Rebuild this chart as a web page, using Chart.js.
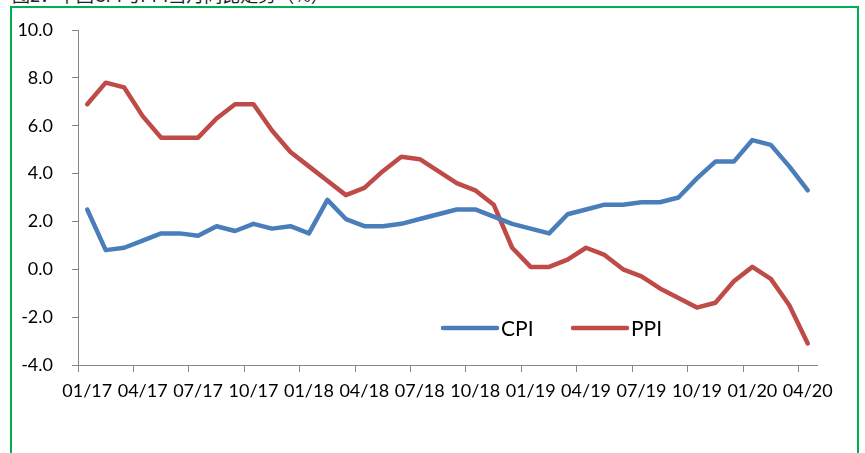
<!DOCTYPE html>
<html>
<head>
<meta charset="utf-8">
<script src="https://cdn.jsdelivr.net/npm/chart.js@4"></script>
<style>
  html, body { margin: 0; padding: 0; background: #fff; overflow: hidden; }
  #wrap { position: relative; width: 865px; height: 453px; }
  #title { position: absolute; left: 12px; top: -19px; font: 18px 'Noto Sans CJK SC', sans-serif; color: #222; white-space: nowrap; }
  #frame { position: absolute; left: 10px; top: 6px; width: 849px; height: 460px; border: 2px solid #00b050; box-sizing: border-box; }
  canvas { position: absolute; left: 0; top: 0; }
</style>
</head>
<body>
<div id="wrap">
  <div id="title">图2：中国CPI与PPI当月同比走势（%）</div>
  <div id="frame"></div>
  <canvas id="chart" width="865" height="453"></canvas>
</div>
<script>
// monthly, 01/17 .. 04/20
const months = [
  '01/17','02/17','03/17','04/17','05/17','06/17','07/17','08/17','09/17','10/17','11/17','12/17',
  '01/18','02/18','03/18','04/18','05/18','06/18','07/18','08/18','09/18','10/18','11/18','12/18',
  '01/19','02/19','03/19','04/19','05/19','06/19','07/19','08/19','09/19','10/19','11/19','12/19',
  '01/20','02/20','03/20','04/20'
];
const cpi = [
  2.5, 0.8, 0.9, 1.2, 1.5, 1.5, 1.4, 1.8, 1.6, 1.9, 1.7, 1.8,
  1.5, 2.9, 2.1, 1.8, 1.8, 1.9, 2.1, 2.3, 2.5, 2.5, 2.2, 1.9,
  1.7, 1.5, 2.3, 2.5, 2.7, 2.7, 2.8, 2.8, 3.0, 3.8, 4.5, 4.5,
  5.4, 5.2, 4.3, 3.3
];
const ppi = [
  6.9, 7.8, 7.6, 6.4, 5.5, 5.5, 5.5, 6.3, 6.9, 6.9, 5.8, 4.9,
  4.3, 3.7, 3.1, 3.4, 4.1, 4.7, 4.6, 4.1, 3.6, 3.3, 2.7, 0.9,
  0.1, 0.1, 0.4, 0.9, 0.6, 0.0, -0.3, -0.8, -1.2, -1.6, -1.4, -0.5,
  0.1, -0.4, -1.5, -3.1
];
const yTicks = [-4, -2, 0, 2, 4, 6, 8, 10];

const axisGray = '#868686';
const font = "Lato, 'Open Sans', sans-serif";

new Chart(document.getElementById('chart'), {
  type: 'line',
  data: {
    labels: months,
    datasets: [
      { label: 'CPI', data: cpi, borderColor: '#4a7ebb' },
      { label: 'PPI', data: ppi, borderColor: '#be4b48' }
    ]
  },
  options: {
    responsive: false,
    animation: false,
    layout: { padding: { left: 10, top: 30, right: 48, bottom: 0 } },
    elements: {
      line: { borderWidth: 4.5, tension: 0, borderCapStyle: 'round', borderJoinStyle: 'round', fill: false },
      point: { radius: 0 }
    },
    plugins: {
      legend: { display: false },
      tooltip: { enabled: false }
    },
    scales: {
      x: {
        type: 'category',
        offset: true,
        border: { color: axisGray, width: 1 },
        grid: {
          offset: true,
          drawOnChartArea: false,
          tickLength: 7,
          tickColor: c => (c.index % 3 === 0 && c.index < months.length) ? axisGray : 'rgba(0,0,0,0)'
        },
        ticks: {
          autoSkip: false,
          maxRotation: 0,
          padding: 8,
          color: '#000',
          font: { family: font, size: 18 },
          callback: (v, i) => i % 3 === 0 ? months[i] : ''
        },
        afterFit(scale) { scale.height = 88; }
      },
      y: {
        min: yTicks[0],
        max: yTicks[yTicks.length - 1],
        border: { color: axisGray, width: 1 },
        grid: { drawOnChartArea: false, tickLength: 6, tickColor: axisGray },
        afterBuildTicks(scale) { scale.ticks = yTicks.map(v => ({ value: v })); },
        ticks: {
          padding: 19,
          color: '#000',
          font: { family: font, size: 18 },
          callback: v => Number(v).toFixed(1)
        },
        afterFit(scale) { scale.width = 68; }
      }
    }
  },
  plugins: [{
    // legend sits inside the plot, lower right
    afterDraw(chart) {
      const ctx = chart.ctx;
      const area = chart.chartArea;
      const y = area.top + 298;
      let x = area.left + 365;
      ctx.save();
      ctx.font = '21px ' + font;
      ctx.textBaseline = 'middle';
      ctx.textAlign = 'left';
      chart.data.datasets.forEach(ds => {
        ctx.strokeStyle = ds.borderColor;
        ctx.lineWidth = 4.5;
        ctx.lineCap = 'round';
        ctx.beginPath();
        ctx.moveTo(x, y);
        ctx.lineTo(x + 54, y);
        ctx.stroke();
        ctx.fillStyle = '#000';
        ctx.fillText(ds.label, x + 58, y + 1);
        x += 130;
      });
      ctx.restore();
    }
  }]
});
</script>
</body>
</html>
